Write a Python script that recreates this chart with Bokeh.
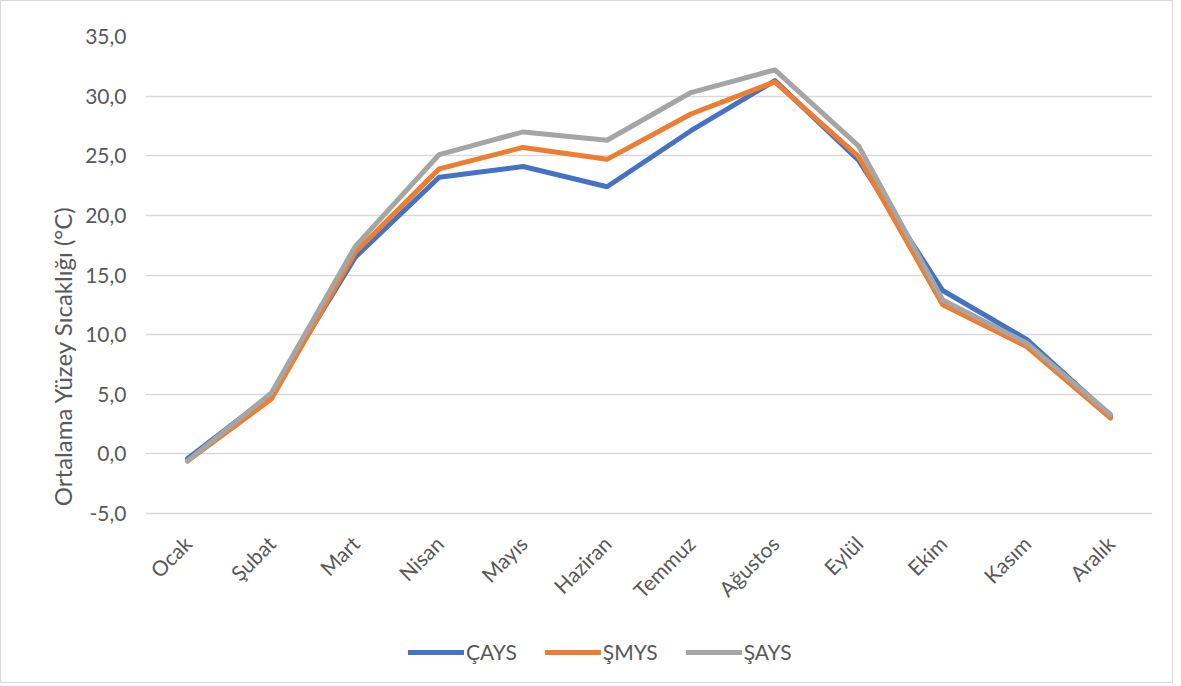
import math
from bokeh.plotting import figure
from bokeh.models import FactorRange, Range1d, FixedTicker, Legend, LegendItem
from bokeh.embed import file_html
from bokeh.resources import INLINE

months = ["Ocak", "Şubat", "Mart", "Nisan", "Mayıs", "Haziran", "Temmuz",
          "Ağustos", "Eylül", "Ekim", "Kasım", "Aralık"]
cays = [-0.4, 5.0, 16.5, 23.2, 24.1, 22.4, 27.1, 31.3, 24.6, 13.7, 9.6, 3.2]
smys = [-0.6, 4.6, 16.9, 23.9, 25.7, 24.7, 28.5, 31.2, 24.9, 12.5, 9.0, 3.0]
says = [-0.6, 5.1, 17.4, 25.1, 27.0, 26.3, 30.3, 32.2, 25.8, 12.9, 9.3, 3.3]
series_names = ["ÇAYS", "ŞMYS", "ŞAYS"]
y_ticks = [-5, 0, 5, 10, 15, 20, 25, 30, 35]
y_tick_labels = ["-5,0", "0,0", "5,0", "10,0", "15,0", "20,0", "25,0", "30,0", "35,0"]
y_title = "Ortalama Yüzey Sıcaklığı (°C)"

colors = ["#4472C4", "#ED7D31", "#A5A5A5"]
FONT = "Lato"
TXT = "#595959"

# layout: axis area spans -5..35 over 477 px; the frame continues below to hold
# the month labels and the legend
Y_MIN, Y_MAX = -5, 35
AXIS_PX = 477
EXTRA_PX = 162
y_start = Y_MIN - EXTRA_PX * (Y_MAX - Y_MIN) / AXIS_PX

p = figure(frame_width=1007, frame_height=AXIS_PX + EXTRA_PX,
           x_range=FactorRange(*months, range_padding=0),
           y_range=Range1d(y_start, Y_MAX), output_backend="svg", toolbar_location=None,
           min_border_left=144, min_border_right=20, min_border_top=35,
           min_border_bottom=7)
p.styles = {"border": "1px solid #d9d9d9"}
p.outline_line_color = None

renderers = []
for vals, c in zip([cays, smys, says], colors):
    r = p.line(months, vals, line_color=c, line_width=5, line_join="round", line_cap="round")
    renderers.append(r)

p.yaxis.ticker = FixedTicker(ticks=y_ticks)
p.yaxis.bounds = (Y_MIN, Y_MAX)
p.yaxis.major_label_overrides = {t: l for t, l in zip(y_ticks, y_tick_labels)}
for ax in [p.xaxis[0], p.yaxis[0]]:
    ax.axis_line_color = None
    ax.major_tick_line_color = None
    ax.minor_tick_line_color = None
    ax.major_label_text_font = FONT
    ax.major_label_text_font_size = "21px"
    ax.major_label_text_color = TXT
p.yaxis.major_label_standoff = 13
p.yaxis.axis_label = y_title
p.yaxis.axis_label_text_font = FONT
p.yaxis.axis_label_text_font_size = "24px"
p.yaxis.axis_label_text_font_style = "normal"
p.yaxis.axis_label_text_color = TXT
p.yaxis.axis_label_standoff = 5
p.xaxis.fixed_location = Y_MIN
p.xaxis.major_label_orientation = math.pi / 4
p.xaxis.major_label_standoff = 20

p.xgrid.grid_line_color = None
p.ygrid.grid_line_color = "#d9d9d9"
p.ygrid.grid_line_width = 1.5
p.ygrid.ticker = FixedTicker(ticks=y_ticks)

items = [LegendItem(label=n, renderers=[r]) for n, r in zip(series_names, renderers)]
legend = Legend(items=items, orientation="horizontal", location=(263, 11))
legend.glyph_width = 56
legend.label_standoff = 2
legend.spacing = 28
legend.padding = 4
legend.margin = 0
legend.border_line_color = None
legend.background_fill_alpha = 0
legend.label_text_font = FONT
legend.label_text_font_size = "21px"
legend.label_text_color = TXT
p.add_layout(legend, "center")

open("out.html", "w").write(file_html(p, INLINE))
